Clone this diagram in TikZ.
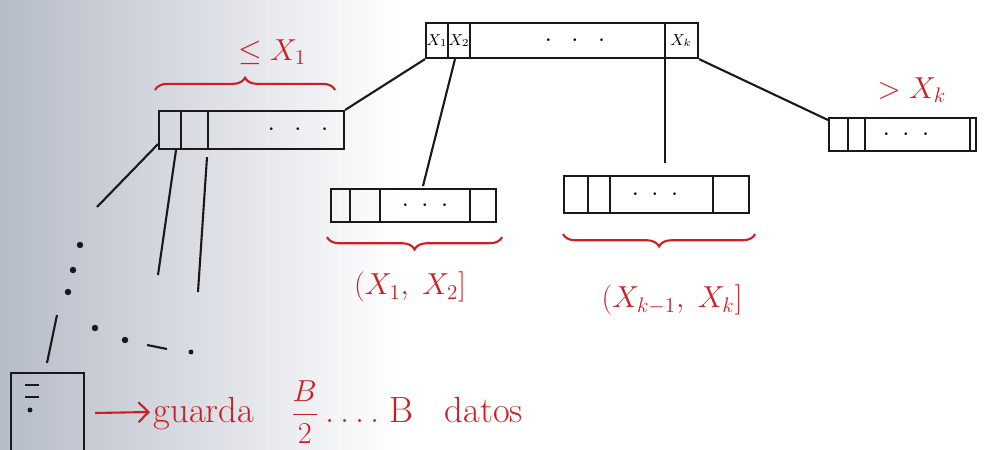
\documentclass[tikz,border=0pt]{standalone}
\usepackage{tikz}
\usetikzlibrary{positioning,calc,decorations.pathreplacing,arrows.meta}
\definecolor{ink}{RGB}{25,25,25}
\definecolor{redink}{RGB}{205,30,35}
\definecolor{shadow}{RGB}{182,188,200}
\tikzset{
  pagebox/.style={
    draw=ink,
    line width=1.2pt,
    inner sep=0pt,
    anchor=north west
  },
  cell/.style={draw=ink, line width=1.2pt},
  link/.style={draw=ink, line width=1.2pt},
  redbrace/.style={
    draw=redink,
    line width=1.2pt,
    decorate,
    decoration={brace, amplitude=7pt}
  },
  redlabel/.style={text=redink, font=\LARGE},
  keylabel/.style={font=\small},
  dotrow/.style={font=\Large},
  dotmark/.style={fill=ink, circle, inner sep=1.3pt},
  redarrow/.style={-{Straight Barb[length=2mm]}, draw=redink, line width=1.2pt}
}

\begin{document}
\begin{tikzpicture}[x=0.02cm, y=-0.02cm]
  \useasboundingbox (0,0) rectangle (992,450);
  \fill[left color=shadow, right color=white] (0,0) rectangle (400,450);

  % pages
  \node[pagebox, minimum width=5.44cm, minimum height=0.7cm] (root) at (425,22) {};
  \node[pagebox, minimum width=3.7cm, minimum height=0.76cm] (lchild) at (158,110) {};
  \node[pagebox, minimum width=3.3cm, minimum height=0.66cm] (mida) at (330,188) {};
  \node[pagebox, minimum width=3.7cm, minimum height=0.74cm] (midb) at (563,175) {};
  \node[pagebox, minimum width=2.94cm, minimum height=0.66cm] (rchild) at (828,117) {};
  \node[pagebox, minimum width=1.46cm, minimum height=1.8cm] (leaf) at (10,372) {};

  % cells of the root
  \draw[cell] ($(root.north west)+(23,0)$) -- ($(root.south west)+(23,0)$);
  \draw[cell] ($(root.north west)+(45,0)$) -- ($(root.south west)+(45,0)$);
  \draw[cell] ($(root.north west)+(240,0)$) -- ($(root.south west)+(240,0)$);
  \node[keylabel] (xone) at ($(root.west)+(12,0)$) {$X_1$};
  \node[keylabel] (xtwo) at ($(root.west)+(34,0)$) {$X_2$};
  \node[keylabel] (xk) at ($(root.west)+(256,0)$) {$X_k$};
  \node[dotrow] (rdots) at ($(root.west)+(150,0)$) {$\cdot\;\;\cdot\;\;\cdot$};

  % cells of the children
  \foreach \off in {23,50}
    \draw[cell] ($(lchild.north west)+(\off,0)$) -- ($(lchild.south west)+(\off,0)$);
  \node[dotrow] (ldots) at ($(lchild.west)+(140,0)$) {$\cdot\;\;\cdot\;\;\cdot$};
  \foreach \off in {20,50,140}
    \draw[cell] ($(mida.north west)+(\off,0)$) -- ($(mida.south west)+(\off,0)$);
  \node[dotrow] (adots) at ($(mida.west)+(95,0)$) {$\cdot\;\cdot\;\cdot$};
  \foreach \off in {25,47,150}
    \draw[cell] ($(midb.north west)+(\off,0)$) -- ($(midb.south west)+(\off,0)$);
  \node[dotrow] (bdots) at ($(midb.west)+(92,0)$) {$\cdot\;\cdot\;\cdot$};
  \foreach \off in {20,37,142}
    \draw[cell] ($(rchild.north west)+(\off,0)$) -- ($(rchild.south west)+(\off,0)$);
  \node[dotrow] (cdots) at ($(rchild.west)+(78,0)$) {$\cdot\;\cdot\;\cdot$};

  % marks inside the leaf
  \draw[cell, line width=1pt] ($(leaf.north west)+(15,13)$) -- ++(14,0);
  \draw[cell, line width=1pt] ($(leaf.north west)+(15,25)$) -- ++(14,0);
  \node[dotmark, inner sep=1pt] (leafdot) at ($(leaf.north west)+(20,38)$) {};

  % links between pages
  \draw[link] (root.south west) -- (lchild.north east);
  \draw[link] ($(root.south west)+(30,0)$) -- ($(mida.north west)+(93,-2)$);
  \draw[link] ($(root.south west)+(240,0)$) -- ($(midb.north west)+(102,-12)$);
  \draw[link] (root.south east) -- ($(rchild.north west)+(0,3)$);

  % links down to the leaves
  \coordinate (ptra) at (97,207);
  \coordinate (ptrb) at (158,275);
  \coordinate (ptrc) at (198,292);
  \draw[link] ($(lchild.south west)+(0,-6)$) -- (ptra);
  \draw[link] ($(lchild.south west)+(18,0)$) -- (ptrb);
  \draw[link] ($(lchild.south west)+(49,7)$) -- (ptrc);
  \node[dotmark] (va) at (80,245) {};
  \node[dotmark] (vb) at (73,270) {};
  \node[dotmark] (vc) at (68,292) {};
  \coordinate (ptrd) at (57,315);
  \draw[link] (ptrd) -- ($(leaf.north west)+(37,-9)$);
  \node[dotmark] (ha) at (95,328) {};
  \node[dotmark] (hb) at (125,340) {};
  \coordinate (hc) at (147,345);
  \coordinate (hd) at (167,349);
  \draw[link] (hc) -- (hd);
  \node[dotmark, inner sep=1pt] (he) at (191,352) {};

  % ranges
  \draw[redbrace] ($(lchild.north west)+(-3,-20)$) -- ($(lchild.north east)+(-10,-20)$);
  \node[redlabel] (le) at (272,52) {$\leq X_1$};
  \draw[redbrace] ($(mida.south east)+(5,14)$) -- ($(mida.south west)+(-3,14)$);
  \node[redlabel] (ra) at (410,287) {$(X_1,\; X_2]$};
  \draw[redbrace] ($(midb.south east)+(5,20)$) -- ($(midb.south west)+(0,20)$);
  \node[redlabel] (rb) at (672,300) {$(X_{k-1},\; X_k]$};
  \node[redlabel] (gt) at (912,90) {$> X_k$};

  % leaf note
  \coordinate (notestart) at ($(leaf.north east)+(10,41)$);
  \coordinate (noteend) at (150,412);
  \draw[redarrow] (notestart) -- (noteend);
  \node[redlabel, font=\huge, anchor=west, inner sep=2pt] (note) at (noteend)
    {guarda\quad{\LARGE$\displaystyle\frac{B}{2}$}\,.\,.\,.\,.\;B\;\; datos};
\end{tikzpicture}
\end{document}
